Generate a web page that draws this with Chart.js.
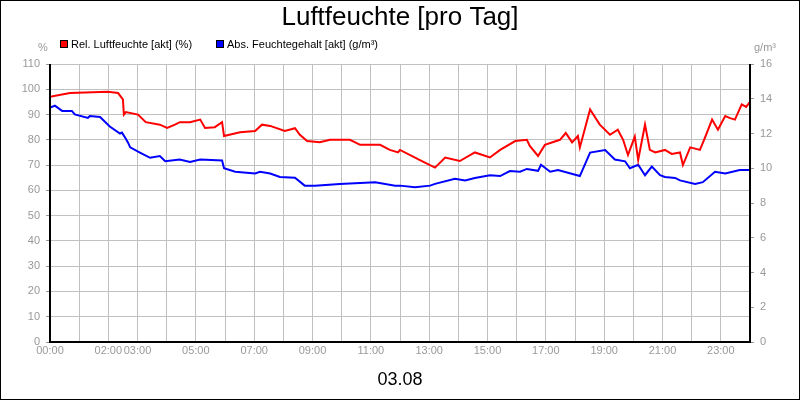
<!DOCTYPE html>
<html><head><meta charset="utf-8">
<script src="https://cdn.jsdelivr.net/npm/chart.js@4"></script>
<style>html,body{margin:0;padding:0;background:#fff}canvas{display:block}</style>
</head><body><canvas id="c" width="800" height="400" style="width:800px;height:400px"></canvas>
<script>
const chartTitle = "Luftfeuchte [pro Tag]";
const dateLabel = "03.08";
const seriesNames = ["Rel. Luftfeuchte [akt] (%)", "Abs. Feuchtegehalt [akt] (g/m³)"];
const tickHours = ["00:00","02:00","03:00","05:00","07:00","09:00","11:00","13:00","15:00","17:00","19:00","21:00","23:00"];
const relMinutes = [0,41,119,140,150,152,156,181,197,226,241,257,267,288,309,319,339,354,358,391,422,436,453,483,504,514,529,555,576,617,638,679,699,716,720,761,792,813,843,874,905,926,957,981,987,1004,1018,1049,1061,1074,1086,1090,1111,1131,1152,1168,1179,1189,1203,1210,1224,1234,1245,1265,1279,1296,1302,1317,1337,1347,1362,1374,1389,1399,1409,1423,1432,1440];
const relValues = [97,98.5,99,98.5,96,90,91,90,87,86,84.7,86,87,87,88,84.7,85,87,81.5,83,83.5,86,85.5,83.5,84.6,82,79.5,79,80,80,78,78,76,75,76,72,69,73,71.6,75,73,76,79.5,80,77.6,73.6,78,80,82.7,79,81.5,77,92,86,82,84,80,74,81.3,72,86,76,75,76,74.4,75,70,77,76,80.7,88,84,89.4,88.6,88,94,93,95,92.6];
const absMinutes = [0,10,25,45,51,78,82,103,123,144,148,156,160,165,185,206,226,237,267,288,309,354,358,381,422,432,453,473,504,524,545,596,638,669,710,720,751,782,792,833,854,874,905,926,946,967,981,1004,1010,1029,1045,1090,1111,1142,1162,1183,1193,1210,1224,1238,1255,1265,1286,1296,1327,1343,1368,1389,1419,1440];
const absValues = [13.5,13.6,13.3,13.3,13.1,12.9,13.0,12.95,12.4,12.0,12.05,11.7,11.5,11.2,10.9,10.6,10.7,10.4,10.5,10.36,10.5,10.45,10.0,9.8,9.7,9.8,9.7,9.5,9.45,9.0,9.0,9.1,9.15,9.2,9.0,9.0,8.9,9.0,9.1,9.4,9.3,9.44,9.6,9.55,9.84,9.8,9.96,9.85,10.2,9.8,9.9,9.55,10.9,11.05,10.5,10.4,10.0,10.2,9.6,10.1,9.6,9.5,9.44,9.3,9.1,9.2,9.8,9.7,9.9,9.9];
const relData = relMinutes.map((m,i)=>({x:m,y:relValues[i]}));
const absData = absMinutes.map((m,i)=>({x:m,y:absValues[i]}));
const F = "'Liberation Sans', Arial, sans-serif";
const deco = {
  id:'deco',
  afterDraw(ch){
    const c=ch.ctx, a=ch.chartArea;
    c.save();
    c.strokeStyle='#000';c.lineWidth=1;c.strokeRect(0.5,0.5,799,399);
    c.fillStyle='#000';c.textAlign='center';c.textBaseline='middle';
    c.font='26px '+F;c.fillText(chartTitle,400,18);
    c.font='18px '+F;c.fillText(dateLabel,400,380);
    c.font='11px '+F;c.fillStyle='#999';
    c.fillText('%',43,48);c.fillText('g/m³',765,48);
    const items=[[60,'#ff0000',seriesNames[0]],[216,'#0000ff',seriesNames[1]]];
    c.textAlign='left';
    items.forEach(([x,col,t])=>{c.fillStyle=col;c.fillRect(x,40,8,8);c.strokeStyle='#000';c.lineWidth=1;c.strokeRect(x+0.5,40.5,7,7);c.fillStyle='#000';c.fillText(t,x+11,45);});
    c.strokeStyle='#000';c.lineWidth=2;c.beginPath();
    c.moveTo(a.left,a.top);c.lineTo(a.left,a.bottom);c.lineTo(a.right,a.bottom);c.lineTo(a.right,a.top);c.stroke();
    c.restore();
  }
};
new Chart(document.getElementById('c'),{
  type:'line',
  data:{datasets:[
    {label:seriesNames[0],data:relData,borderColor:'#ff0000',borderWidth:2,pointRadius:0,tension:0,yAxisID:'y'},
    {label:seriesNames[1],data:absData,borderColor:'#0000ff',borderWidth:2,pointRadius:0,tension:0,yAxisID:'y2'}
  ]},
  options:{responsive:false,animation:false,events:[],devicePixelRatio:1,
    layout:{padding:{top:64,left:0,right:0,bottom:0}},
    plugins:{legend:{display:false},title:{display:false},tooltip:{enabled:false}},
    scales:{
      x:{type:'linear',min:0,max:1440,
        afterFit(s){s.height=58;},
        afterBuildTicks(s){s.ticks=[];for(let m=0;m<=1440;m+=60)s.ticks.push({value:m});},
        ticks:{autoSkip:false,maxRotation:0,color:'#999',font:{family:F,size:11},padding:2,
          callback(v){const h=String(Math.round(v/60)).padStart(2,'0')+':00';return tickHours.includes(h)?h:'';}},
        grid:{color:'#c0c0c0',drawTicks:false},border:{display:false}},
      y:{position:'left',min:0,max:110,afterFit(s){s.width=50;},
        ticks:{stepSize:10,color:'#999',font:{family:F,size:11},padding:6},
        grid:{color:'#c0c0c0',drawTicks:true,tickLength:4,tickColor:'#999'},border:{display:false}},
      y2:{position:'right',min:0,max:16,afterFit(s){s.width=50;},
        ticks:{stepSize:2,color:'#999',font:{family:F,size:11},padding:6},
        grid:{drawOnChartArea:false,tickLength:4,tickColor:'#999'},border:{display:false}}
    }},
  plugins:[deco]
});
</script></body></html>
